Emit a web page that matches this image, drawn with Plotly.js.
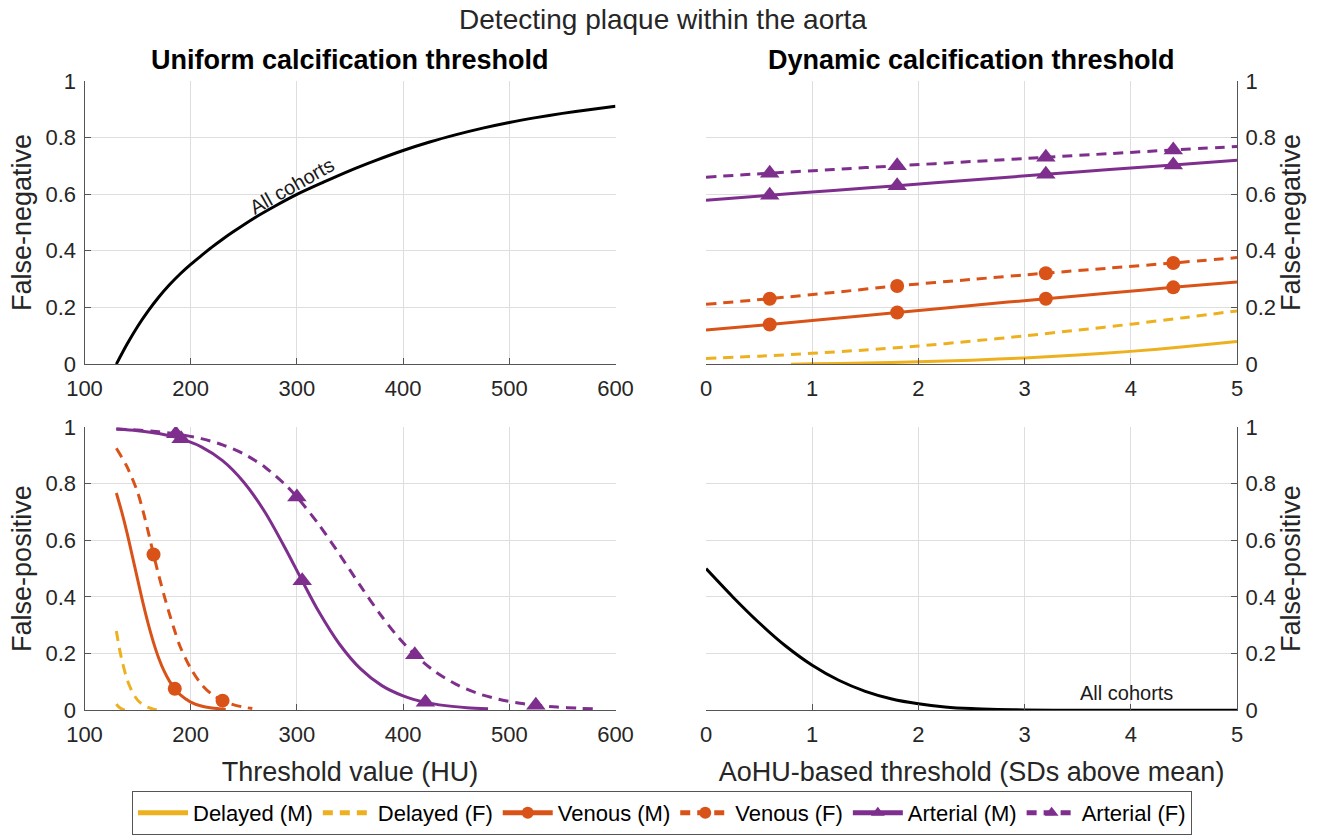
<!DOCTYPE html>
<html><head><meta charset="utf-8">
<script src="https://cdn.plot.ly/plotly-3.0.1.min.js"></script>
<style>html,body{margin:0;padding:0;background:#fff}#chart{width:1330px;height:835px}</style>
</head><body><div id="chart"></div><script>
// ---------- Top-left: uniform threshold, false-negative (all cohorts)
const fnUniformX = [130,140,150,160,170,180,190,200,210,220,230,240,260,280,300,325,350,375,400,425,450,475,500,525,550,575,600];
const fnUniformY = [0,0.07,0.133,0.188,0.237,0.28,0.318,0.352,0.383,0.413,0.441,0.467,0.516,0.559,0.599,0.642,0.683,0.72,0.754,0.784,0.81,0.833,0.853,0.87,0.885,0.898,0.91];

// ---------- Top-right: dynamic threshold, false-negative per cohort
const sdX = [0,0.6,1.2,1.8,2.5,3.2,3.8,4.4,5];
const sdMarkerX = [0.6,1.8,3.2,4.4];
const fnDynArterialF = [0.66,0.674,0.687,0.70,0.715,0.73,0.743,0.756,0.768];
const fnDynArterialM = [0.578,0.596,0.613,0.63,0.65,0.67,0.687,0.703,0.72];
const fnDynVenousF   = [0.211,0.231,0.253,0.276,0.299,0.321,0.339,0.357,0.376];
const fnDynVenousM   = [0.12,0.14,0.161,0.182,0.207,0.231,0.251,0.271,0.29];
const fnDynDelayedFX = [0,0.5,1,1.5,2,2.5,3,3.5,4,4.5,5];
const fnDynDelayedF  = [0.02,0.028,0.038,0.05,0.064,0.081,0.1,0.12,0.141,0.164,0.188];
const fnDynDelayedMX = [0.8,1,1.5,2,2.5,3,3.5,4,4.5,5];
const fnDynDelayedM  = [0,0.001,0.004,0.008,0.014,0.022,0.032,0.045,0.061,0.08];

// ---------- Bottom-left: uniform threshold, false-positive per cohort
const fpArterialMX = [130,150,170,191,210,230,250,270,290,305,320,340,360,380,400,421,440,460,480];
const fpArterialMY = [0.993,0.987,0.977,0.958,0.93,0.881,0.805,0.699,0.565,0.457,0.352,0.234,0.146,0.087,0.051,0.028,0.0165,0.0093,0.0052];
const fpArterialMMarkers = [191,305,421];
const fpArterialFX = [130,150,170,186,210,230,250,270,290,300,320,340,360,380,395,411,430,450,470,490,510,525,545,565,580];
const fpArterialFY = [0.993,0.989,0.983,0.976,0.959,0.937,0.905,0.858,0.793,0.753,0.659,0.551,0.438,0.331,0.26,0.196,0.137,0.0915,0.06,0.039,0.0251,0.018,0.0115,0.0073,0.0052];
const fpArterialFMarkers = [186,300,411,525];
const fpVenousMX = [130,135,140,145,150,155,160,165,170,175,180,185,190,200,210,220,233];
const fpVenousMY = [0.767,0.701,0.627,0.545,0.462,0.38,0.305,0.239,0.183,0.138,0.103,0.076,0.055,0.029,0.015,0.008,0.003];
const fpVenousMMarkers = [185];
const fpVenousFX = [130,140,150,155,160,165,170,175,180,185,190,200,210,220,230,240,250,258];
const fpVenousFY = [0.925,0.86,0.77,0.705,0.63,0.55,0.475,0.405,0.34,0.28,0.225,0.148,0.092,0.056,0.034,0.02,0.011,0.006];
const fpVenousFMarkers = [165,230];
const fpDelayedFX = [130,133,136,139,142,145,148,151,155,160,165,168];
const fpDelayedFY = [0.28,0.215,0.165,0.122,0.09,0.065,0.046,0.032,0.02,0.01,0.004,0.002];
const fpDelayedMX = [130,132,134,136,138];
const fpDelayedMY = [0.022,0.013,0.007,0.003,0.001];

// ---------- Bottom-right: dynamic threshold, false-positive (all cohorts)
const fpDynX = [0,0.25,0.5,0.75,1,1.25,1.5,1.75,2,2.25,2.5,2.75,3,3.5,4,4.5,5];
const fpDynY = [0.5,0.401,0.309,0.227,0.159,0.106,0.067,0.04,0.023,0.012,0.006,0.003,0.0013,0.0002,0,0,0];

const seriesNames = ['Delayed (M)','Delayed (F)','Venous (M)','Venous (F)','Arterial (M)','Arterial (F)'];

const YELLOW = '#EDB120', RED = '#D95319', PURPLE = '#7E2F8E';
const DASH = '10px,7px';

function line(x, y, xa, ya, color, dash, name, showlegend, symbol, markerX) {
  const mk = markerX || [];
  const msz = symbol === 'triangle-up' ? 17 : 14;
  const t = {
    type: 'scatter', x: x, y: y, xaxis: xa, yaxis: ya,
    mode: symbol ? 'lines+markers' : 'lines',
    name: name, legendgroup: name, showlegend: !!showlegend,
    line: {color: color, width: 3, dash: dash, shape: 'spline', smoothing: 0.8},
    hoverinfo: 'x+y'
  };
  if (symbol) {
    t.marker = {symbol: symbol, color: color, opacity: 1, size: x.map(v => mk.includes(v) ? msz : 0), line: {width: 0}};
  }
  return t;
}

const data = [
  // top-right (carry legend)
  line(fnDynDelayedMX, fnDynDelayedM, 'x2', 'y2', YELLOW, 'solid', seriesNames[0], true),
  line(fnDynDelayedFX, fnDynDelayedF, 'x2', 'y2', YELLOW, DASH, seriesNames[1], true),
  line(sdX, fnDynVenousM, 'x2', 'y2', RED, 'solid', seriesNames[2], true, 'circle', sdMarkerX),
  line(sdX, fnDynVenousF, 'x2', 'y2', RED, DASH, seriesNames[3], true, 'circle', sdMarkerX),
  line(sdX, fnDynArterialM, 'x2', 'y2', PURPLE, 'solid', seriesNames[4], true, 'triangle-up', sdMarkerX),
  line(sdX, fnDynArterialF, 'x2', 'y2', PURPLE, DASH, seriesNames[5], true, 'triangle-up', sdMarkerX),
  // top-left
  line(fnUniformX, fnUniformY, 'x', 'y', '#000000', 'solid', 'All cohorts', false),
  // bottom-left
  line(fpDelayedMX, fpDelayedMY, 'x3', 'y3', YELLOW, 'solid', seriesNames[0], false),
  line(fpDelayedFX, fpDelayedFY, 'x3', 'y3', YELLOW, DASH, seriesNames[1], false),
  line(fpVenousMX, fpVenousMY, 'x3', 'y3', RED, 'solid', seriesNames[2], false, 'circle', fpVenousMMarkers),
  line(fpVenousFX, fpVenousFY, 'x3', 'y3', RED, DASH, seriesNames[3], false, 'circle', fpVenousFMarkers),
  line(fpArterialMX, fpArterialMY, 'x3', 'y3', PURPLE, 'solid', seriesNames[4], false, 'triangle-up', fpArterialMMarkers),
  line(fpArterialFX, fpArterialFY, 'x3', 'y3', PURPLE, DASH, seriesNames[5], false, 'triangle-up', fpArterialFMarkers),
  // bottom-right
  line(fpDynX, fpDynY, 'x4', 'y4', '#000000', 'solid', 'All cohorts', false)
];

const FONT = 'Liberation Sans, Arial, Helvetica, sans-serif';
const TXT = '#262626';
const AX = '#555555';
const GRID = '#dedede';

function xax(domain, anchor, range, dtick, title) {
  const a = {
    domain: domain, anchor: anchor, range: range, dtick: dtick, tick0: range[0],
    ticks: 'inside', ticklen: 6, tickcolor: AX, showline: true, linecolor: AX, linewidth: 1,
    showgrid: true, gridcolor: GRID, gridwidth: 1, zeroline: false, fixedrange: true,
    tickfont: {size: 22, color: TXT, family: FONT}, ticklabelstandoff: 4
  };
  if (title) a.title = {text: title, font: {size: 27, color: TXT, family: FONT}, standoff: 16};
  return a;
}
function yax(domain, anchor, side, title) {
  return {
    domain: domain, anchor: anchor, side: side, range: [0, 1], dtick: 0.2, tick0: 0,
    ticks: 'inside', ticklen: 6, tickcolor: AX, showline: true, linecolor: AX, linewidth: 1,
    showgrid: true, gridcolor: GRID, gridwidth: 1, zeroline: false, fixedrange: true,
    tickfont: {size: 22, color: TXT, family: FONT}, ticklabelstandoff: 3,
    title: {text: title, font: {size: 27, color: TXT, family: FONT}, standoff: 6}
  };
}

const XL = [84.5/1330, 615.5/1330];
const XR = [706/1330, 1237/1330];
const YT = [(835-365)/835, (835-81)/835];
const YB = [(835-712)/835, (835-428)/835];

const layout = {
  width: 1330, height: 835,
  margin: {l: 0, r: 0, t: 0, b: 0},
  paper_bgcolor: '#ffffff', plot_bgcolor: '#ffffff',
  font: {family: FONT, color: TXT},
  title: {text: 'Detecting plaque within the aorta', x: 663/1330, xanchor: 'center', y: 1 - 19/835, yanchor: 'middle',
          font: {size: 28, color: TXT, family: FONT}},
  xaxis: xax(XL, 'y', [100, 600], 100),
  yaxis: yax(YT, 'x', 'left', 'False-negative'),
  xaxis2: xax(XR, 'y2', [0, 5], 1),
  yaxis2: yax(YT, 'x2', 'right', 'False-negative'),
  xaxis3: xax(XL, 'y3', [100, 600], 100, 'Threshold value (HU)'),
  yaxis3: yax(YB, 'x3', 'left', 'False-positive'),
  xaxis4: xax(XR, 'y4', [0, 5], 1, 'AoHU-based threshold (SDs above mean)'),
  yaxis4: yax(YB, 'x4', 'right', 'False-positive'),
  showlegend: true,
  legend: {
    orientation: 'h', x: 662/1330, xanchor: 'center', y: 1 - 793/835, yanchor: 'top',
    bordercolor: AX, borderwidth: 1, bgcolor: '#ffffff',
    font: {size: 22, color: '#000000', family: FONT}, itemwidth: 50, itemsizing: 'constant',
    traceorder: 'normal'
  },
  annotations: [
    {text: '<b>Uniform calcification threshold</b>', xref: 'paper', yref: 'paper', x: 350/1330, y: 1 - 60/835,
     xanchor: 'center', yanchor: 'middle', showarrow: false, font: {size: 27, color: '#000000', family: FONT}},
    {text: '<b>Dynamic calcification threshold</b>', xref: 'paper', yref: 'paper', x: 971.5/1330, y: 1 - 60/835,
     xanchor: 'center', yanchor: 'middle', showarrow: false, font: {size: 27, color: '#000000', family: FONT}},
    {text: 'All cohorts', xref: 'x', yref: 'y', x: 295, y: 0.63, textangle: -29.5, showarrow: false,
     xanchor: 'center', yanchor: 'middle', font: {size: 20, color: '#1a1a1a', family: FONT}},
    {text: 'All cohorts', xref: 'x4', yref: 'y4', x: 3.96, y: 0.06, showarrow: false,
     xanchor: 'center', yanchor: 'middle', font: {size: 20, color: '#1a1a1a', family: FONT}}
  ]
};

Plotly.newPlot('chart', data, layout, {displayModeBar: false, staticPlot: true});
</script></body></html>
